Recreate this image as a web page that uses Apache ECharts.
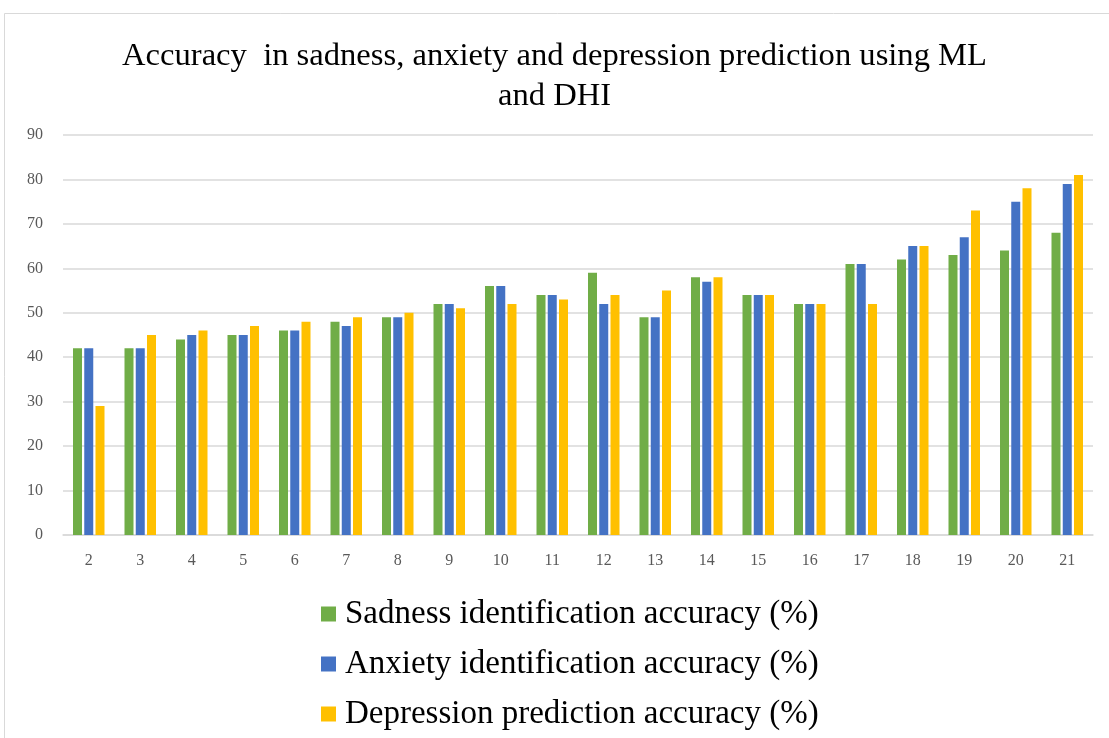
<!DOCTYPE html>
<html>
<head>
<meta charset="utf-8">
<script src="https://cdn.jsdelivr.net/npm/echarts@6/dist/echarts.min.js"></script>
<style>
  html, body { margin: 0; padding: 0; background: #fff; }
  #chart { width: 1109px; height: 738px; }
</style>
</head>
<body>
<div id="chart"></div>
<script>
// Number of items / category labels
const categories = ['2','3','4','5','6','7','8','9','10','11','12','13','14','15','16','17','18','19','20','21'];

// Accuracy values (%) per series
const sadness    = [42, 42, 44, 45, 46, 48, 49, 52, 56, 54, 59, 49, 58, 54, 52, 61, 62, 63, 64, 68];
const anxiety    = [42, 42, 45, 45, 46, 47, 49, 52, 56, 54, 52, 49, 57, 54, 52, 61, 65, 67, 75, 79];
const depression = [29, 45, 46, 47, 48, 49, 50, 51, 52, 53, 54, 55, 58, 54, 52, 52, 65, 73, 78, 81];

const seriesNames = [
  'Sadness identification accuracy (%)',
  'Anxiety identification accuracy (%)',
  'Depression prediction accuracy (%)'
];
const colors = ['#70ad47', '#4472c4', '#ffc000'];

const serif = '"Liberation Serif", "Times New Roman", serif';

const chart = echarts.init(document.getElementById('chart'));

function barSeries(name, data, color) {
  return {
    name: name,
    type: 'bar',
    data: data,
    barWidth: 9,
    barGap: '25%',
    itemStyle: { color: color },
    emphasis: { disabled: true }
  };
}

chart.setOption({
  backgroundColor: '#ffffff',
  animation: false,
  color: colors,
  graphic: [{
    type: 'rect',
    shape: { x: 4.5, y: 13.5, width: 1120, height: 740 },
    style: { fill: 'none', stroke: '#d9d9d9', lineWidth: 1 },
    silent: true
  }],
  title: {
    text: 'Accuracy  in sadness, anxiety and depression prediction using ML\nand DHI',
    left: 'center',
    top: 31,
    padding: [5, 5, 5, 23],
    textStyle: {
      fontFamily: serif,
      fontWeight: 'normal',
      fontSize: 32.6,
      color: '#000',
      lineHeight: 40
    }
  },
  legend: {
    orient: 'vertical',
    left: 316,
    top: 592,
    itemWidth: 15,
    itemHeight: 15,
    itemGap: 16,
    icon: 'rect',
    textStyle: { fontFamily: serif, fontSize: 33, lineHeight: 34, color: '#000', padding: [0, 0, 0, 4] },
    data: seriesNames
  },
  grid: { left: 63, right: 16, top: 135, bottom: 203, containLabel: false },
  xAxis: {
    type: 'category',
    data: categories,
    axisLine: { show: true, lineStyle: { color: '#d9d9d9', width: 1.5 } },
    axisTick: { show: false },
    axisLabel: { fontFamily: serif, fontSize: 16, color: '#595959', margin: 18 }
  },
  yAxis: {
    type: 'value',
    min: 0,
    max: 90,
    interval: 10,
    axisLine: { show: false },
    axisTick: { show: false },
    splitLine: { lineStyle: { color: '#d9d9d9', width: 1.5 } },
    axisLabel: { fontFamily: serif, fontSize: 16, color: '#595959', margin: 20 }
  },
  series: [
    barSeries(seriesNames[0], sadness, colors[0]),
    barSeries(seriesNames[1], anxiety, colors[1]),
    barSeries(seriesNames[2], depression, colors[2])
  ]
});
</script>
</body>
</html>
